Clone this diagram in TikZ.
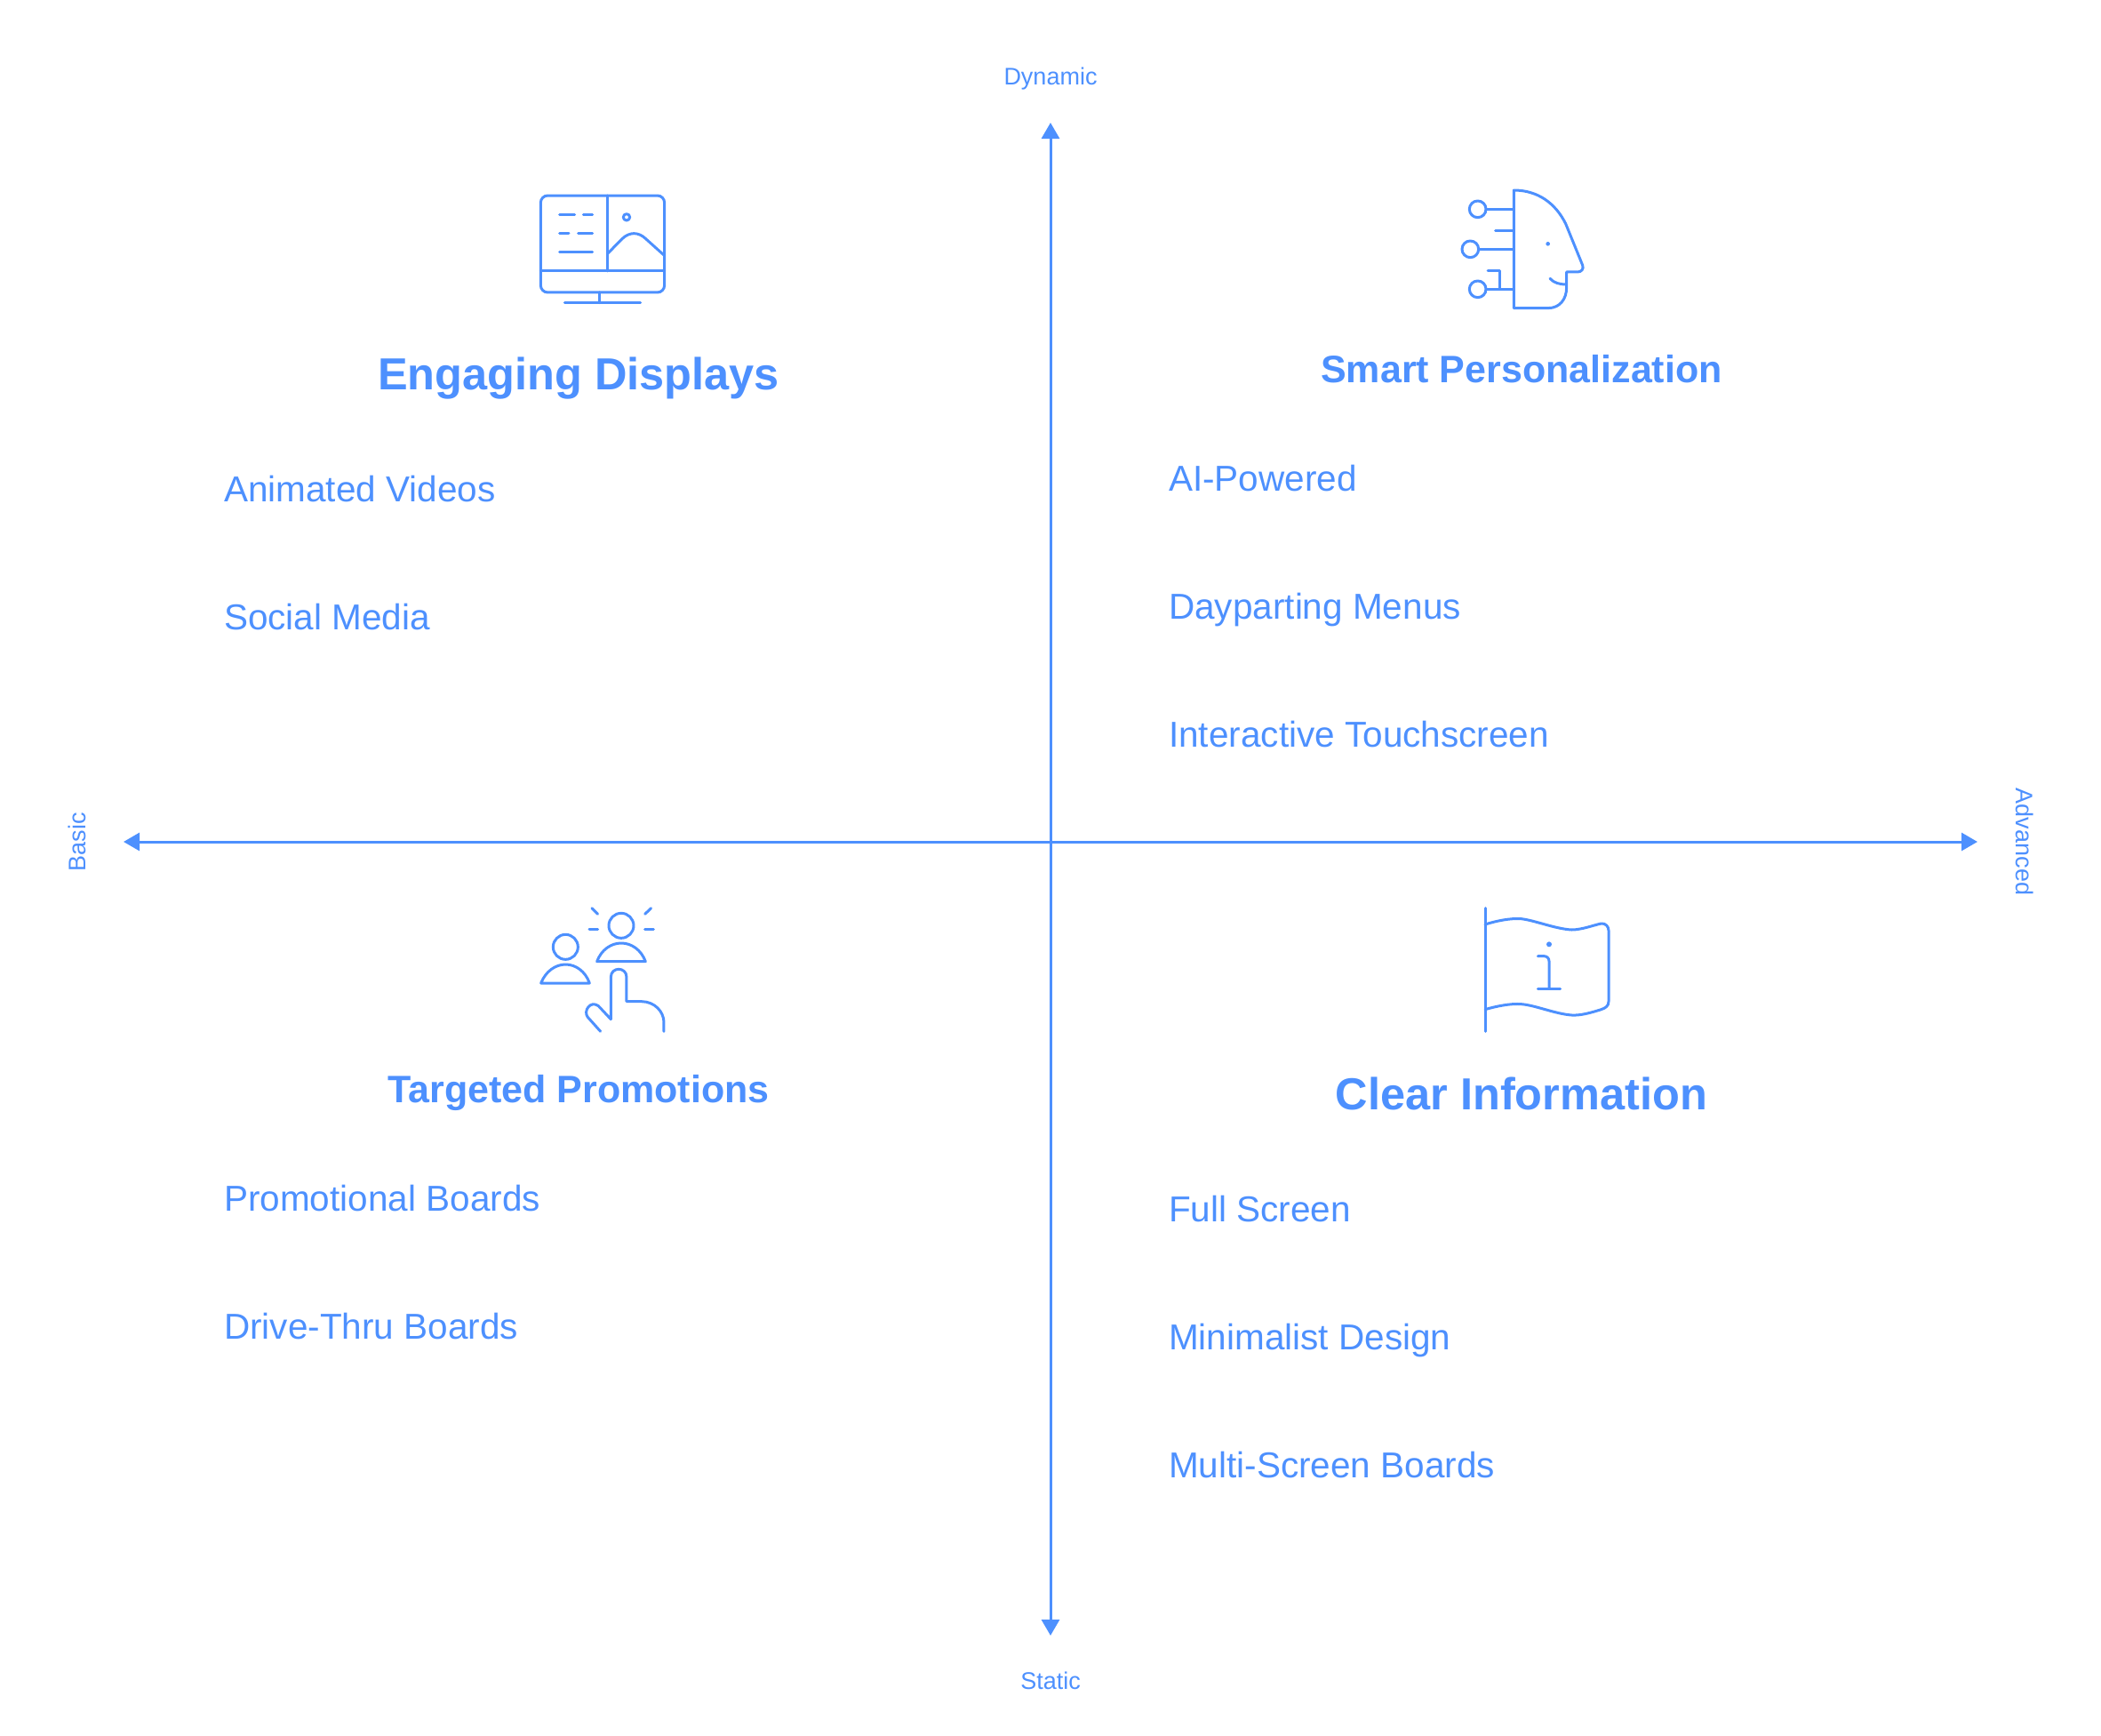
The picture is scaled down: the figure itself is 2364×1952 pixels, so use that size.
\documentclass[tikz,border=0pt]{standalone}
\usepackage{fontspec}
\setmainfont{Liberation Sans}
\usepackage{xcolor}
\usetikzlibrary{arrows.meta}
\definecolor{chartBlue}{RGB}{77, 144, 254}

\begin{document}
\begin{tikzpicture}[
  x=1pt, y=-1pt,
  every node/.style={text=chartBlue, inner sep=0pt},
  axisline/.style={draw=chartBlue, line width=3pt, {Triangle[length=18pt,width=20pt]}-{Triangle[length=18pt,width=20pt]}},
  axislabel/.style={anchor=base, font=\fontsize{27}{32}\selectfont},
  itemlabel/.style={anchor=base west, font=\fontsize{40.5}{50}\selectfont},
  bigtitle/.style={anchor=base, font=\fontsize{50.5}{60}\selectfont\bfseries},
  smalltitle/.style={anchor=base, font=\fontsize{43}{54}\selectfont\bfseries},
  iconline/.style={draw=chartBlue, line width=3pt, line cap=round, line join=round}
]
  \useasboundingbox (0,0) rectangle (2364,1952);

  % axes
  \coordinate (top) at (1182,138);
  \coordinate (bottom) at (1182,1840);
  \coordinate (left) at (139,947);
  \coordinate (right) at (2225,947);
  \draw[axisline] (bottom) -- (top);
  \draw[axisline] (left) -- (right);

  \node[axislabel] (dynamic) at (1182,95) {Dynamic};
  \node[axislabel] (static) at (1182,1900) {Static};
  \node[axislabel, rotate=90] (basic) at (96,947) {Basic};
  \node[axislabel, rotate=-90] (advanced) at (2268,947) {Advanced};

  % titles
  \node[bigtitle] (engaging) at (651,438) {Engaging Displays};
  \node[smalltitle] (smart) at (1712,430.5) {Smart Personalization};
  \node[smalltitle] (targeted) at (651,1240) {Targeted Promotions};
  \node[bigtitle] (clear) at (1712,1248) {Clear Information};

  % items
  \node[itemlabel] (animated) at (252,564.5) {Animated Videos};
  \node[itemlabel] (social) at (252,708.5) {Social Media};
  \node[itemlabel] (ai) at (1315,552.5) {AI-Powered};
  \node[itemlabel] (daypart) at (1315,696.5) {Dayparting Menus};
  \node[itemlabel] (touch) at (1315,840.5) {Interactive Touchscreen};
  \node[itemlabel] (promo) at (252,1362.5) {Promotional Boards};
  \node[itemlabel] (drive) at (252,1506.5) {Drive-Thru Boards};
  \node[itemlabel] (full) at (1315,1374.5) {Full Screen};
  \node[itemlabel] (minimal) at (1315,1518.5) {Minimalist Design};
  \node[itemlabel] (multi) at (1315,1662.5) {Multi-Screen Boards};

  % monitor
  \begin{scope}[shift={(580,190)}, x=0.3333pt, y=-0.3333pt, iconline]
    \draw[rounded corners=8pt] (85,90) rectangle (503,417);
    \draw (312,90) -- (312,345);
    \draw (85,345) -- (503,345);
    \draw (285,417) -- (285,452);
    \draw (166,452) -- (422,452);
    \draw (149,155) -- (200,155) (229,155) -- (260,155);
    \draw (149,218) -- (180,218) (212,218) -- (260,218);
    \draw (149,281) -- (260,281);
    \draw (375,163) circle[radius=11];
    \draw (312,285) -- (360,236) .. controls (385,212) and (415,212) .. (440,236) -- (500,290);
  \end{scope}

  % head
  \begin{scope}[shift={(1620,190)}, x=0.3333pt, y=-0.3333pt, iconline]
    \draw (250,72) .. controls (330,72) and (390,115) .. (425,185) -- (482,325)
      .. controls (487,338) and (478,348) .. (465,348) -- (428,348) -- (428,400)
      .. controls (428,440) and (405,470) .. (365,470) -- (250,470) -- cycle;
    \draw (372,370) .. controls (385,385) and (405,390) .. (428,390);
    \fill[chartBlue] (365,253) circle[radius=7];
    \draw (128,136) circle[radius=28];
    \draw (103,271) circle[radius=28];
    \draw (128,406) circle[radius=28];
    \draw (157,136) -- (250,136);
    \draw (188,209) -- (250,209);
    \draw (132,271) -- (250,271);
    \draw (157,406) -- (250,406);
    \draw (162,343) -- (203,343) -- (203,406);
  \end{scope}

  % people
  \begin{scope}[shift={(590,1000)}, x=0.3333pt, y=-0.3333pt, iconline]
    \draw (139,196) circle[radius=42];
    \draw (56,318) .. controls (72,278) and (105,255) .. (139,255)
      .. controls (173,255) and (206,278) .. (220,318) -- cycle;
    \draw (327,124) circle[radius=42];
    \draw (245,245) .. controls (260,205) and (293,183) .. (327,183)
      .. controls (361,183) and (394,205) .. (409,245) -- cycle;
    \draw (228,65) -- (248,85);
    \draw (428,65) -- (407,85);
    \draw (219,137) -- (248,137);
    \draw (407,137) -- (436,137);
    \draw (257,481) -- (214,433) .. controls (198,413) and (222,375) .. (250,395)
      -- (292,440) -- (292,298) .. controls (292,262) and (345,262) .. (345,298)
      -- (345,380) -- (395,380) .. controls (440,380) and (471,415) .. (471,450) -- (471,481);
  \end{scope}

  % flag
  \begin{scope}[shift={(1650,1000)}, x=0.3333pt, y=-0.3333pt, iconline]
    \draw (63,65) -- (63,481);
    \draw (63,120) .. controls (100,108) and (150,98) .. (185,101)
      .. controls (230,106) and (300,135) .. (355,138)
      .. controls (390,138) and (430,122) .. (455,117)
      .. controls (470,115) and (480,128) .. (480,140)
      -- (480,380) .. controls (480,395) and (470,402) .. (455,407)
      .. controls (420,418) and (385,428) .. (355,426)
      .. controls (300,422) and (230,392) .. (185,389)
      .. controls (150,386) and (100,396) .. (63,407);
    \fill[chartBlue] (279,187) circle[radius=9];
    \draw (241,227) -- (262,227) .. controls (272,227) and (279,234) .. (279,244) -- (279,336);
    \draw (241,336) -- (317,336);
  \end{scope}
\end{tikzpicture}
\end{document}
